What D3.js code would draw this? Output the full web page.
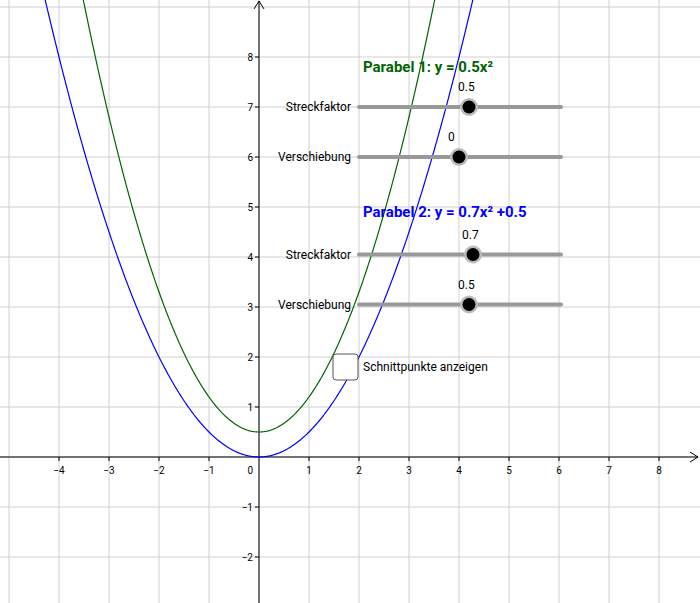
<!DOCTYPE html>
<html><head><meta charset="utf-8">
<script src="https://cdn.jsdelivr.net/npm/d3@7"></script>
<style>body{margin:0;background:#fff}text{font-family:Roboto,Arial,sans-serif}</style>
</head><body>
<svg id="c" width="700" height="603"></svg>
<script>
const xTicks = [-4,-3,-2,-1,1,2,3,4,5,6,7,8];
const yTicks = [-2,-1,1,2,3,4,5,6,7,8];
const curves = [
  {a: 0.5, c: 0, color: "#0000ff"},
  {a: 0.7, c: 0.5, color: "#006400"}
];
const titles = [
  {text: "Parabel 1: y = 0.5x²", y: 7.7, color: "#006400"},
  {text: "Parabel 2: y = 0.7x² +0.5", y: 4.8, color: "#0000ff"}
];
const sliders = [
  {label: "Streckfaktor", y: 7, pos: 4.2, value: "0.5"},
  {label: "Verschiebung", y: 6, pos: 4.0, value: "0"},
  {label: "Streckfaktor", y: 4.05, pos: 4.28, value: "0.7"},
  {label: "Verschiebung", y: 3.05, pos: 4.2, value: "0.5"}
];

const svg = d3.select("#c");
const x = d3.scaleLinear().domain([0, 1]).range([259, 309]);
const y = d3.scaleLinear().domain([0, 1]).range([457, 407]);

// grid
const gx = d3.range(-5, 9), gy = d3.range(-2, 10);
svg.selectAll(".gv").data(gx).join("line").attr("x1", d => x(d)).attr("x2", d => x(d))
  .attr("y1", 0).attr("y2", 603).attr("stroke", "#d0d0d0");
svg.selectAll(".gh").data(gy).join("line").attr("y1", d => y(d)).attr("y2", d => y(d))
  .attr("x1", 0).attr("x2", 700).attr("stroke", "#d0d0d0");

// axes
svg.append("line").attr("x1", 0).attr("x2", 698).attr("y1", y(0)).attr("y2", y(0)).attr("stroke", "#000");
svg.append("line").attr("x1", x(0)).attr("x2", x(0)).attr("y1", 1).attr("y2", 603).attr("stroke", "#000");
svg.append("path").attr("d", `M690,${y(0)-5}L698,${y(0)}L690,${y(0)+5}`).attr("fill", "none").attr("stroke", "#000");
svg.append("path").attr("d", `M${x(0)-5},9L${x(0)},1L${x(0)+5},9`).attr("fill", "none").attr("stroke", "#000");
svg.selectAll(".tx").data(xTicks).join("line").attr("x1", d => x(d)).attr("x2", d => x(d))
  .attr("y1", y(0)).attr("y2", y(0) + 4).attr("stroke", "#000");
svg.selectAll(".ty").data(yTicks).join("line").attr("y1", d => y(d)).attr("y2", d => y(d))
  .attr("x1", x(0) - 4).attr("x2", x(0)).attr("stroke", "#000");
const fmt = d => d < 0 ? "−" + (-d) : String(d);
svg.selectAll(".lx").data(xTicks).join("text").attr("x", d => x(d)).attr("y", y(0) + 17)
  .attr("text-anchor", "middle").attr("font-size", 10).text(fmt);
svg.selectAll(".ly").data(yTicks).join("text").attr("x", x(0) - 6).attr("y", d => y(d) + 4)
  .attr("text-anchor", "end").attr("font-size", 10).text(fmt);
svg.append("text").attr("x", x(0) - 6).attr("y", y(0) + 17).attr("text-anchor", "end").attr("font-size", 10).text("0");

// curves
const line = d3.line().x(d => x(d[0])).y(d => y(d[1]));
curves.forEach(cv => {
  const pts = d3.range(-5.2, 8.8, 0.02).map(t => [t, cv.a * t * t + cv.c]).filter(p => p[1] < 10);
  svg.append("path").attr("d", line(pts)).attr("fill", "none").attr("stroke", cv.color).attr("stroke-width", 1.2);
});

// titles
svg.selectAll(".ti").data(titles).join("text").attr("x", 363).attr("y", d => y(d.y))
  .attr("font-size", 15).attr("font-weight", "bold").attr("fill", d => d.color).text(d => d.text);

// sliders
const sg = svg.selectAll(".sl").data(sliders).join("g");
sg.append("line").attr("x1", x(2)).attr("x2", x(6.04)).attr("y1", d => y(d.y)).attr("y2", d => y(d.y))
  .attr("stroke", "#999").attr("stroke-width", 4).attr("stroke-linecap", "round");
sg.append("circle").attr("cx", d => x(d.pos)).attr("cy", d => y(d.y)).attr("r", 9).attr("fill", "#bbb");
sg.append("circle").attr("cx", d => x(d.pos)).attr("cy", d => y(d.y)).attr("r", 6.5).attr("fill", "#000");
sg.append("text").attr("x", 351).attr("y", d => y(d.y) + 4).attr("text-anchor", "end").attr("font-size", 12).text(d => d.label);
sg.append("text").attr("x", d => x(d.pos) - 11).attr("y", d => y(d.y) - 16).attr("font-size", 12).text(d => d.value);

// checkbox
svg.append("rect").attr("x", 333).attr("y", 354).attr("width", 25).attr("height", 26).attr("rx", 3)
  .attr("fill", "#fff").attr("stroke", "#555");
svg.append("text").attr("x", 363).attr("y", 371).attr("font-size", 12).text("Schnittpunkte anzeigen");
</script>
</body></html>
